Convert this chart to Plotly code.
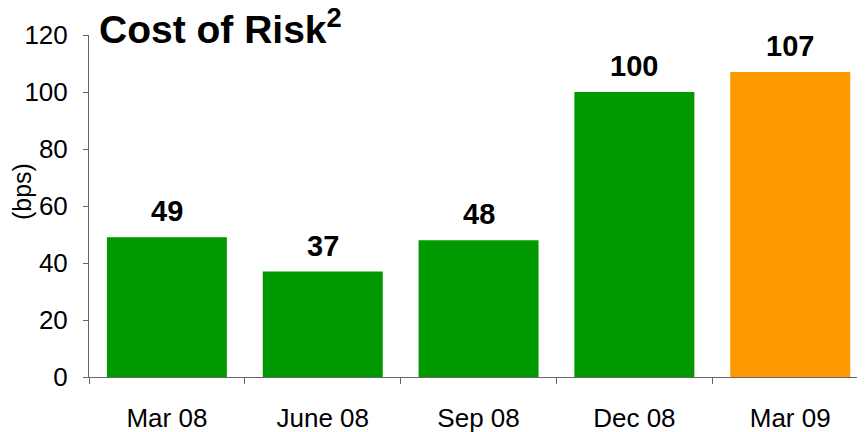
import plotly.graph_objects as go

categories = ["Mar 08", "June 08", "Sep 08", "Dec 08", "Mar 09"]
values = [49, 37, 48, 100, 107]
colors = ["#009900", "#009900", "#009900", "#009900", "#FF9900"]
y_ticks = [0, 20, 40, 60, 80, 100, 120]

FONT = "Liberation Sans, Arial, sans-serif"

fig = go.Figure()
fig.add_trace(go.Bar(
    x=categories, y=values, marker=dict(color=colors, line=dict(width=0)),
    hoverinfo="skip"
))

for c, v in zip(categories, values):
    fig.add_annotation(x=c, y=v, text="<b>%d</b>" % v, showarrow=False,
                       yanchor="bottom", yshift=8,
                       font=dict(family=FONT, size=29, color="black"))

fig.add_annotation(xref="paper", yref="paper", x=0.010, y=1.026, xanchor="left", yanchor="middle",
                   text="<b>Cost of Risk<sup>2</sup></b>", showarrow=False,
                   font=dict(family=FONT, size=39, color="black"))

fig.add_annotation(xref="paper", yref="paper", x=-0.0863, y=0.541, xanchor="center", yanchor="middle",
                   text="(bps)", textangle=-90, showarrow=False,
                   font=dict(family=FONT, size=25, color="black"))

fig.update_layout(
    width=865, height=432,
    margin=dict(l=81, r=8, t=27, b=63),
    paper_bgcolor="white", plot_bgcolor="white",
    bargap=0.23, showlegend=False,
    font=dict(family=FONT, size=26, color="black"),
)
fig.update_xaxes(
    type="category", range=[-0.5, 4.48], tickson="boundaries", automargin=False,
    ticks="outside", ticklen=6, tickcolor="#666666", tickwidth=1,
    showline=True, linecolor="#666666", linewidth=1, showgrid=False,
    ticklabelstandoff=18, tickfont=dict(family=FONT, size=26),
)
fig.update_yaxes(
    range=[0, 120], tickvals=y_ticks, automargin=False,
    ticks="outside", ticklen=5, tickcolor="#666666", tickwidth=1,
    showline=True, linecolor="#666666", linewidth=1, showgrid=False, zeroline=False,
    tickfont=dict(family=FONT, size=26), ticklabelstandoff=10,
)

fig.write_html("out.html")
